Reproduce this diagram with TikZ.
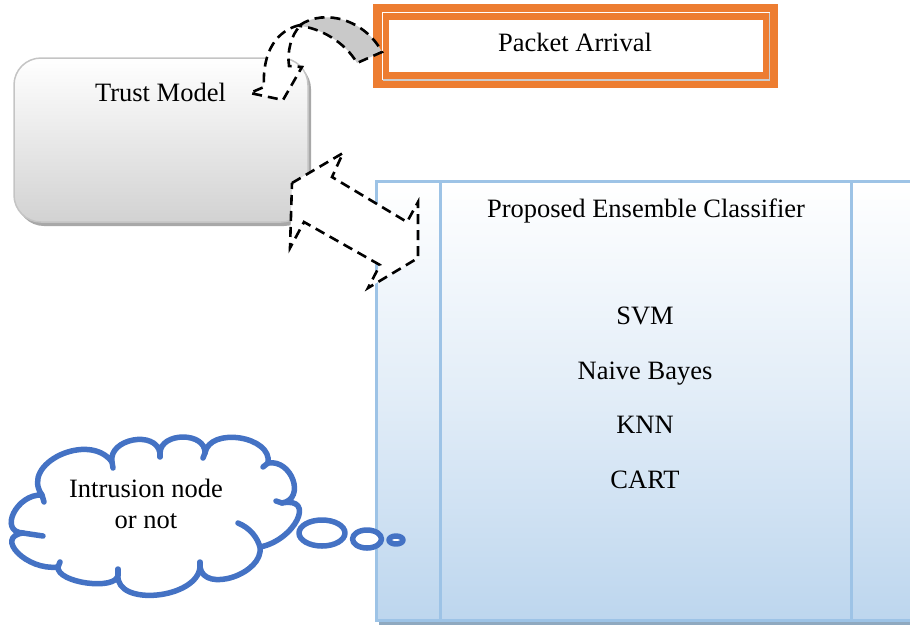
\documentclass[tikz,border=0pt]{standalone}
\usepackage{fontspec}
\setmainfont{Liberation Serif}
\definecolor{pkorange}{HTML}{ED7D31}
\definecolor{cloudblue}{HTML}{4472C4}
\definecolor{clsborder}{HTML}{9DC3E6}
\definecolor{clsbottom}{HTML}{BDD6EE}
\definecolor{clsshadow}{HTML}{8FA9C0}
\definecolor{trustedge}{HTML}{C4C4C4}
\definecolor{trustbottom}{HTML}{D2D2D2}
\definecolor{trustshadow}{HTML}{A8A8A8}
\definecolor{bandgray}{HTML}{C9C9C9}
\begin{document}
\begin{tikzpicture}[x=1pt,y=-1pt,
  txt/.style={font=\fontsize{26.5}{31}\selectfont, inner sep=0pt, text=black, anchor=base},
  dashedge/.style={draw=black, line width=2.6pt, dash pattern=on 10pt off 6pt, line join=miter},
  cloudline/.style={draw=cloudblue, line width=5.5pt, line join=round, line cap=round},
]
\useasboundingbox (0,0) rectangle (910,625);

% Trust Model panel
\fill[trustshadow, rounded corners=27pt] (17,62) rectangle (311,226);
\node[draw=trustedge, line width=1.5pt, rounded corners=27pt,
      top color=white, bottom color=trustbottom,
      minimum width=294pt, minimum height=164pt, inner sep=0pt] (trust) at (161,140) {};
\node[txt] (trusttxt) at (160.5,101) {Trust Model};

% Ensemble classifier panel
\fill[clsshadow] (379,184) rectangle (930,625);
\node[draw=clsborder, line width=3pt,
      top color=white, bottom color=clsbottom, middle color=white!55!clsbottom,
      minimum width=554pt, minimum height=439pt, inner sep=0pt] (cls) at (653,400.5) {};
\draw[clsborder, line width=3pt] (440,181) -- (440,620);
\draw[clsborder, line width=3pt] (851,181) -- (851,620);
\node[txt] (clstitle) at (646,217) {Proposed Ensemble Classifier};
\node[txt] (svm) at (645,324) {SVM};
\node[txt] (nb) at (645,379) {Naive Bayes};
\node[txt] (knn) at (645,433) {KNN};
\node[txt] (cart) at (645,488) {CART};

% Packet arrival frame
\node[fill=pkorange, minimum width=405pt, minimum height=84pt, inner sep=0pt] (packet) at (575.5,46) {};
\draw[white, line width=1.6pt] (382.5,80) -- (382.5,12.5) -- (769.5,12.5);
\draw[gray!40, line width=1.6pt] (382.5,80) -- (769.5,80) -- (769.5,12.5);
\fill[white] (389,20) rectangle (763,72);
\node[txt] (packettxt) at (575,51) {Packet Arrival};

% Curved arrow from packet arrival to trust model
\filldraw[fill=white, dashedge] (300,25) .. controls (278,30) and (262,50) .. (264,87)
   -- (250,93) -- (283,100) -- (302,67) -- (289,66)
   .. controls (287,52) and (291,35) .. (300,26) -- cycle;
\filldraw[fill=bandgray, dashedge] (300,25) .. controls (325,8) and (365,20) .. (382,52)
   -- (357,63) .. controls (345,42) and (320,28) .. (300,26) -- cycle;

% Block arrow between trust model and classifier
\filldraw[fill=white, dashedge] (292,183) -- (343,153) -- (332,177) -- (407,222)
   -- (418,202) -- (418,258) -- (368,288) -- (380,265) -- (304,222) -- (290,248) -- cycle;

% Thought cloud
\filldraw[fill=white, cloudline]
  (42,495) .. controls (19.3,463.7) and (89.3,430.7) .. (112,462)
  .. controls (108,438.7) and (156,429.7) .. (160,453)
  .. controls (160.7,431.7) and (205.7,431.7) .. (205,453)
  .. controls (209.7,426.3) and (272.7,436.3) .. (268,463)
  .. controls (292,459) and (306,499) .. (282,503)
  .. controls (316.7,496.3) and (294.7,540.3) .. (260,547)
  .. controls (264,573.7) and (204,593.7) .. (200,567)
  .. controls (197.3,599) and (115.3,607) .. (118,575)
  .. controls (116.7,591) and (56.7,583) .. (58,567)
  .. controls (26.7,571) and (-6,537) .. (23,533)
  .. controls (-2,531.7) and (16.7,493.7) .. (42,495) -- cycle;
\draw[cloudline] (238,523) .. controls (250,528) and (257,537) .. (260,547);
\draw[cloudline] (23,533) -- (43,536);
\draw[cloudline] (42,495) -- (44,502);
\draw[cloudline] (112,462) -- (113,468);
\draw[cloudline] (160,453) -- (160,457);
\draw[cloudline] (205,453) -- (203,458);
\draw[cloudline] (268,463) -- (263,467);
\draw[cloudline] (282,503) -- (276,501);
\draw[cloudline] (200,567) -- (200,562);
\draw[cloudline] (118,575) -- (118,569);
\draw[cloudline] (58,567) -- (60,562);
\filldraw[fill=white, cloudline] (322,533) ellipse [x radius=23pt, y radius=13pt];
\filldraw[fill=white, cloudline] (367,539) ellipse [x radius=14.5pt, y radius=9pt];
\filldraw[fill=white, cloudline] (396,540) ellipse [x radius=7pt, y radius=4pt];
\node[txt] (cloudtxt1) at (146,497) {Intrusion node};
\node[txt] (cloudtxt2) at (146,528) {or not};
\end{tikzpicture}
\end{document}
